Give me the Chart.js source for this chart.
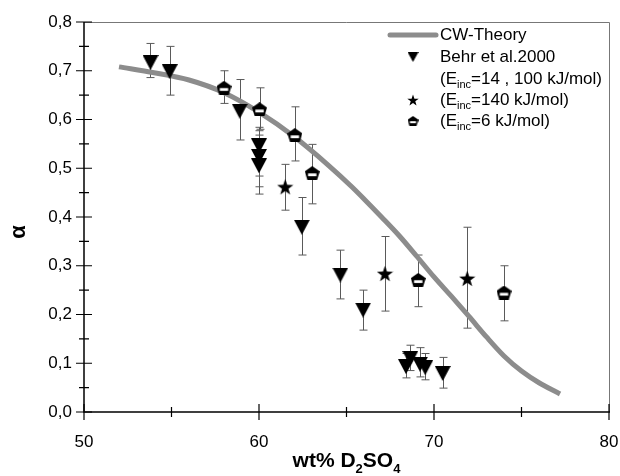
<!DOCTYPE html>
<html>
<head>
<meta charset="utf-8">
<script src="https://cdn.jsdelivr.net/npm/chart.js@4"></script>
<style>
  html, body { margin: 0; padding: 0; background: #fff; }
  #wrap { width: 620px; height: 476px; }
</style>
</head>
<body>
<div id="wrap"><canvas id="wykres" width="620" height="476"></canvas></div>
<script>
// CW theory curve
var curveX = [52, 54, 56, 58, 60, 62, 64, 65.3, 66, 67, 68, 69, 70, 71, 72, 73, 74, 75, 76, 77.2];
var curveY = [0.708, 0.696, 0.681, 0.655, 0.615, 0.565, 0.505, 0.462, 0.437, 0.400, 0.362, 0.320, 0.277, 0.237, 0.196, 0.154, 0.115, 0.084, 0.060, 0.037];

// Behr et al. 2000 (E_inc = 14, 100 kJ/mol)
var behrX = [53.8, 54.9, 58.9, 60.0, 60.0, 60.0, 62.45, 64.65, 65.95, 68.4, 68.65, 69.2, 69.5, 70.5];
var behrY = [0.717, 0.698, 0.617, 0.546, 0.524, 0.505, 0.379, 0.281, 0.209, 0.093, 0.110, 0.098, 0.091, 0.079];
var behrLo = [0.686, 0.650, 0.558, 0.484, 0.462, 0.447, 0.322, 0.232, 0.168, 0.070, 0.085, 0.072, 0.066, 0.049];
var behrHi = [0.756, 0.750, 0.682, 0.584, 0.577, 0.568, 0.440, 0.332, 0.250, 0.120, 0.137, 0.132, 0.120, 0.112];

// E_inc = 140 kJ/mol
var starX = [61.5, 67.2, 71.9];
var starY = [0.462, 0.284, 0.274];
var starLo = [0.414, 0.207, 0.172];
var starHi = [0.508, 0.360, 0.379];

// E_inc = 6 kJ/mol
var pentX = [58.0, 60.03, 62.05, 63.04, 69.1, 74.0];
var pentY = [0.665, 0.621, 0.568, 0.490, 0.271, 0.245];
var pentLo = [0.633, 0.580, 0.515, 0.427, 0.216, 0.187];
var pentHi = [0.700, 0.665, 0.626, 0.549, 0.322, 0.300];

var xTicks = [50, 60, 70, 80];
var yTicks = [0, 0.1, 0.2, 0.3, 0.4, 0.5, 0.6, 0.7, 0.8];

function toPoints(xs, ys) {
    var pts = [];
    for (var i = 0; i < xs.length; i++) {
        pts = [...pts, { x: xs[i], y: ys[i] }];
    }
    return pts;
}

// marker pictures
function triMarker(w, h) {
    var c = document.createElement('canvas');
    c.width = w; c.height = h;
    var g = c.getContext('2d');
    g.fillStyle = '#000';
    g.beginPath();
    g.moveTo(0, 0); g.lineTo(w, 0); g.lineTo(w / 2, h); g.closePath();
    g.fill();
    return c;
}

function starMarker(s) {
    var c = document.createElement('canvas');
    c.width = s; c.height = s;
    var g = c.getContext('2d');
    var cx = s / 2, cy = s / 2 + s * 0.05, ro = s / 2, ri = s * 0.2;
    g.fillStyle = '#000';
    g.beginPath();
    for (var i = 0; i < 10; i++) {
        var r = i % 2 === 0 ? ro : ri;
        var a = -Math.PI / 2 + i * Math.PI / 5;
        var px = cx + r * Math.cos(a), py = cy + r * Math.sin(a);
        if (i === 0) g.moveTo(px, py); else g.lineTo(px, py);
    }
    g.closePath();
    g.fill();
    return c;
}

function pentMarker(w, h) {
    var c = document.createElement('canvas');
    c.width = w; c.height = h;
    var g = c.getContext('2d');
    g.fillStyle = '#000';
    g.beginPath();
    g.moveTo(w / 2, 0);
    g.lineTo(w, h * 0.38);
    g.lineTo(w * 0.82, h);
    g.lineTo(w * 0.18, h);
    g.lineTo(0, h * 0.38);
    g.closePath();
    g.fill();
    g.fillStyle = '#fff';
    g.fillRect(w * 0.22, h * 0.52, w * 0.56, Math.max(2, h * 0.2));
    return c;
}

var triBig = triMarker(16, 15), triSmall = triMarker(11, 10);
var starBig = starMarker(17), starSmall = starMarker(12);
var pentBig = pentMarker(15, 14), pentSmall = pentMarker(11, 10);

var errBars = [
    { xs: behrX, lo: behrLo, hi: behrHi },
    { xs: starX, lo: starLo, hi: starHi },
    { xs: pentX, lo: pentLo, hi: pentHi }
];

function textSub(ctx, parts, x, y, big, small) {
    // parts: [text, isSub]
    var cx = x;
    parts.forEach(function (p) {
        ctx.font = (p[1] ? small : big);
        ctx.fillText(p[0], cx, p[1] ? y + 6 : y);
        cx += ctx.measureText(p[0]).width;
    });
}

var deco = {
    id: 'deco',
    beforeDatasetsDraw: function (chart) {
        var ctx = chart.ctx, xs = chart.scales.x, ys = chart.scales.y;
        ctx.save();
        ctx.strokeStyle = '#5a5a5a';
        ctx.lineWidth = 1;
        errBars.forEach(function (e) {
            for (var i = 0; i < e.xs.length; i++) {
                var px = Math.round(xs.getPixelForValue(e.xs[i])) + 0.5;
                var p1 = ys.getPixelForValue(e.lo[i]), p2 = ys.getPixelForValue(e.hi[i]);
                ctx.beginPath();
                ctx.moveTo(px, p1); ctx.lineTo(px, p2);
                ctx.moveTo(px - 4, p1); ctx.lineTo(px + 4, p1);
                ctx.moveTo(px - 4, p2); ctx.lineTo(px + 4, p2);
                ctx.stroke();
            }
        });
        ctx.restore();
    },
    afterDraw: function (chart) {
        var ctx = chart.ctx, a = chart.chartArea, xs = chart.scales.x, ys = chart.scales.y;
        ctx.save();
        // frame top / right
        ctx.strokeStyle = '#777';
        ctx.lineWidth = 1;
        ctx.beginPath();
        ctx.moveTo(a.left, a.top + 0.5); ctx.lineTo(a.right + 0.5, a.top + 0.5); ctx.lineTo(a.right + 0.5, a.bottom);
        ctx.stroke();
        // axes
        ctx.strokeStyle = '#000';
        ctx.lineWidth = 1.5;
        ctx.beginPath();
        ctx.moveTo(a.left, a.top); ctx.lineTo(a.left, a.bottom); ctx.lineTo(a.right + 1, a.bottom);
        ctx.stroke();
        ctx.lineWidth = 1.2;
        ctx.beginPath();
        for (var v = 50; v <= 80; v += 5) {
            var px = xs.getPixelForValue(v), len = (v % 10 === 0) ? 8 : 5;
            ctx.moveTo(px, a.bottom - len); ctx.lineTo(px, a.bottom + len);
        }
        for (var k = 0; k <= 16; k++) {
            var py = ys.getPixelForValue(k * 0.05), l2 = (k % 2 === 0) ? 8 : 5;
            ctx.moveTo(a.left - l2, py); ctx.lineTo(a.left + l2, py);
        }
        ctx.stroke();

        // axis titles
        ctx.fillStyle = '#000';
        ctx.textBaseline = 'alphabetic';
        var bigB = 'bold 21px "Liberation Sans", Arial, sans-serif';
        var smallB = 'bold 13px "Liberation Sans", Arial, sans-serif';
        var parts = [['wt% D', false], ['2', true], ['SO', false], ['4', true]];
        var tw = 0;
        parts.forEach(function (p) { ctx.font = p[1] ? smallB : bigB; tw += ctx.measureText(p[0]).width; });
        textSub(ctx, parts, (a.left + a.right) / 2 - tw / 2, 467, bigB, smallB);

        ctx.save();
        ctx.translate(25, 232);
        ctx.rotate(-Math.PI / 2);
        ctx.font = 'bold 22px "Liberation Sans", Arial, sans-serif';
        ctx.textAlign = 'center';
        ctx.fillText('\u03B1', 0, 0);
        ctx.restore();

        // legend
        var f = '17px "Liberation Sans", Arial, sans-serif';
        var fs = '11px "Liberation Sans", Arial, sans-serif';
        ctx.textBaseline = 'middle';
        ctx.strokeStyle = '#8c8c8c';
        ctx.lineWidth = 5;
        ctx.lineCap = 'round';
        ctx.beginPath();
        ctx.moveTo(390, 35); ctx.lineTo(436, 35);
        ctx.stroke();
        var lx = 440;
        ctx.font = f;
        ctx.fillText('CW-Theory', lx, 35);
        ctx.drawImage(triSmall, 413 - triSmall.width / 2, 57 - triSmall.height / 2);
        ctx.fillText('Behr et al.2000', lx, 57);
        textSub(ctx, [['(E', false], ['inc', true], ['=14 , 100 kJ/mol)', false]], lx, 79, f, fs);
        ctx.drawImage(starSmall, 413 - starSmall.width / 2, 100 - starSmall.height / 2);
        textSub(ctx, [['(E', false], ['inc', true], ['=140 kJ/mol)', false]], lx, 100, f, fs);
        ctx.drawImage(pentSmall, 413 - pentSmall.width / 2, 121 - pentSmall.height / 2);
        textSub(ctx, [['(E', false], ['inc', true], ['=6 kJ/mol)', false]], lx, 121, f, fs);
        ctx.restore();
    }
};

var ctx = document.getElementById('wykres').getContext('2d');
window.chart = new Chart(ctx, {
    type: 'scatter',
    data: {
        datasets: [{
            label: 'Behr et al.2000',
            data: toPoints(behrX, behrY),
            pointStyle: triBig,
            order: 1
        }, {
            label: 'E_inc=140 kJ/mol',
            data: toPoints(starX, starY),
            pointStyle: starBig,
            order: 1
        }, {
            label: 'E_inc=6 kJ/mol',
            data: toPoints(pentX, pentY),
            pointStyle: pentBig,
            order: 1
        }, {
            label: 'CW-Theory',
            data: toPoints(curveX, curveY),
            showLine: true,
            borderColor: '#8c8c8c',
            borderWidth: 5,
            pointRadius: 0,
            cubicInterpolationMode: 'monotone',
            order: 5
        }]
    },
    options: {
        responsive: false,
        animation: false,
        layout: { padding: { top: 22, right: 11, left: 0, bottom: 0 } },
        plugins: { legend: { display: false }, tooltip: { enabled: false } },
        scales: {
            x: {
                type: 'linear', min: 50, max: 80,
                afterBuildTicks: function (s) { s.ticks = xTicks.map(function (v) { return { value: v }; }); },
                ticks: { color: '#000', padding: 20, font: { family: '"Liberation Sans", Arial', size: 17 } },
                grid: { display: false, drawTicks: false },
                border: { display: false },
                afterFit: function (s) { s.height = 64; s.paddingLeft = 0; s.paddingRight = 0; }
            },
            y: {
                type: 'linear', min: 0, max: 0.8,
                afterBuildTicks: function (s) { s.ticks = yTicks.map(function (v) { return { value: v }; }); },
                ticks: {
                    color: '#000', padding: 12, font: { family: '"Liberation Sans", Arial', size: 17 },
                    callback: function (v) { return v.toFixed(1).replace('.', ','); }
                },
                grid: { display: false, drawTicks: false },
                border: { display: false },
                afterFit: function (s) { s.width = 84; s.paddingTop = 0; s.paddingBottom = 0; }
            }
        }
    },
    plugins: [deco]
});
</script>
</body>
</html>
